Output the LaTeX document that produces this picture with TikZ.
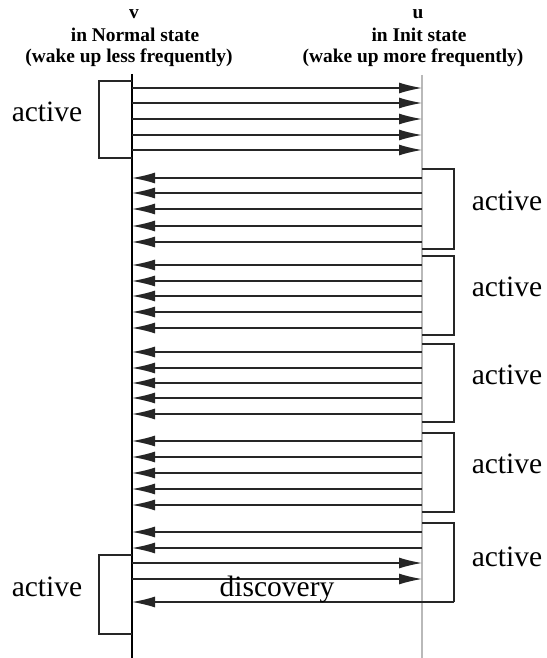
\documentclass[tikz,border=0pt]{standalone}
\usepackage{fontspec}
\setmainfont{Liberation Serif}
\usetikzlibrary{arrows.meta}

\begin{document}
\begin{tikzpicture}[x=1pt, y=-1pt, >={Latex[length=23pt, width=11pt]},
  msg/.style={->, line width=1.3pt, draw=black!85},
  actbox/.style={line width=1.2pt, draw=black!85},
  headlbl/.style={font=\fontsize{19.4}{22}\selectfont\bfseries, anchor=base},
  actlbl/.style={font=\fontsize{29.5}{34}\selectfont, anchor=base}]
  \useasboundingbox (0,0) rectangle (546,658);

  %% Lifelines
  \coordinate (vtop) at (132,74);
  \coordinate (vbot) at (132,658);
  \coordinate (utop) at (422,75);
  \coordinate (ubot) at (422,658);
  \draw[line width=1.5pt] (vtop) -- (vbot);
  \draw[line width=2.5pt, gray!55] (utop) -- (ubot);

  %% Headers
  \node[headlbl] (vname) at (134,19) {v};
  \node[headlbl] (vstate) at (135,42) {in Normal state};
  \node[headlbl] (vwake) at (129,63) {(wake up less frequently)};
  \node[headlbl] (uname) at (418,19) {u};
  \node[headlbl] (ustate) at (419,42) {in Init state};
  \node[headlbl] (uwake) at (413,63) {(wake up more frequently)};

  %% v active periods
  \foreach \i/\ya/\yb in {1/81/158, 2/555/634} {
    \coordinate (va\i) at (132,\ya);
    \coordinate (vb\i) at (132,\yb);
    \draw[actbox] (va\i) -- ++(-33,0) |- (vb\i);
    \node[actlbl] (vact\i) at (47,{(\ya+\yb)/2+2}) {active};
  }

  %% u active periods
  \foreach \i/\ya/\yb in {2/169/249, 3/256/335, 4/344/422, 5/433/512} {
    \coordinate (ua\i) at (422,\ya);
    \coordinate (ub\i) at (422,\yb);
    \draw[actbox] (ua\i) -- ++(32,0) |- (ub\i);
    \node[actlbl] (uact\i) at (507,{(\ya+\yb)/2+1}) {active};
  }
  \coordinate (ua6) at (422,523);
  \coordinate (ucorner) at (454,602);
  \draw[actbox] (ua6) -| (ucorner);
  \node[actlbl] (uact6) at (507,566) {active};

  %% v -> u
  \foreach \y in {88,103,119,135,150,563,579} {
    \coordinate (v\y) at (132,\y);
    \coordinate (u\y) at (422,\y);
    \draw[msg] (v\y) -- (u\y);
  }

  %% u -> v
  \foreach \y in {178,193,209,226,242,265,281,296,312,328,
                  352,368,383,398,414,441,457,473,489,505,532,548} {
    \coordinate (u\y) at (422,\y);
    \coordinate (v\y) at (132,\y);
    \draw[msg] (u\y) -- (v\y);
  }
  \coordinate (v602) at (132,602);
  \draw[msg] (ucorner) -- (v602);

  \node[actlbl] (disc) at (277,596) {discovery};
\end{tikzpicture}
\end{document}
